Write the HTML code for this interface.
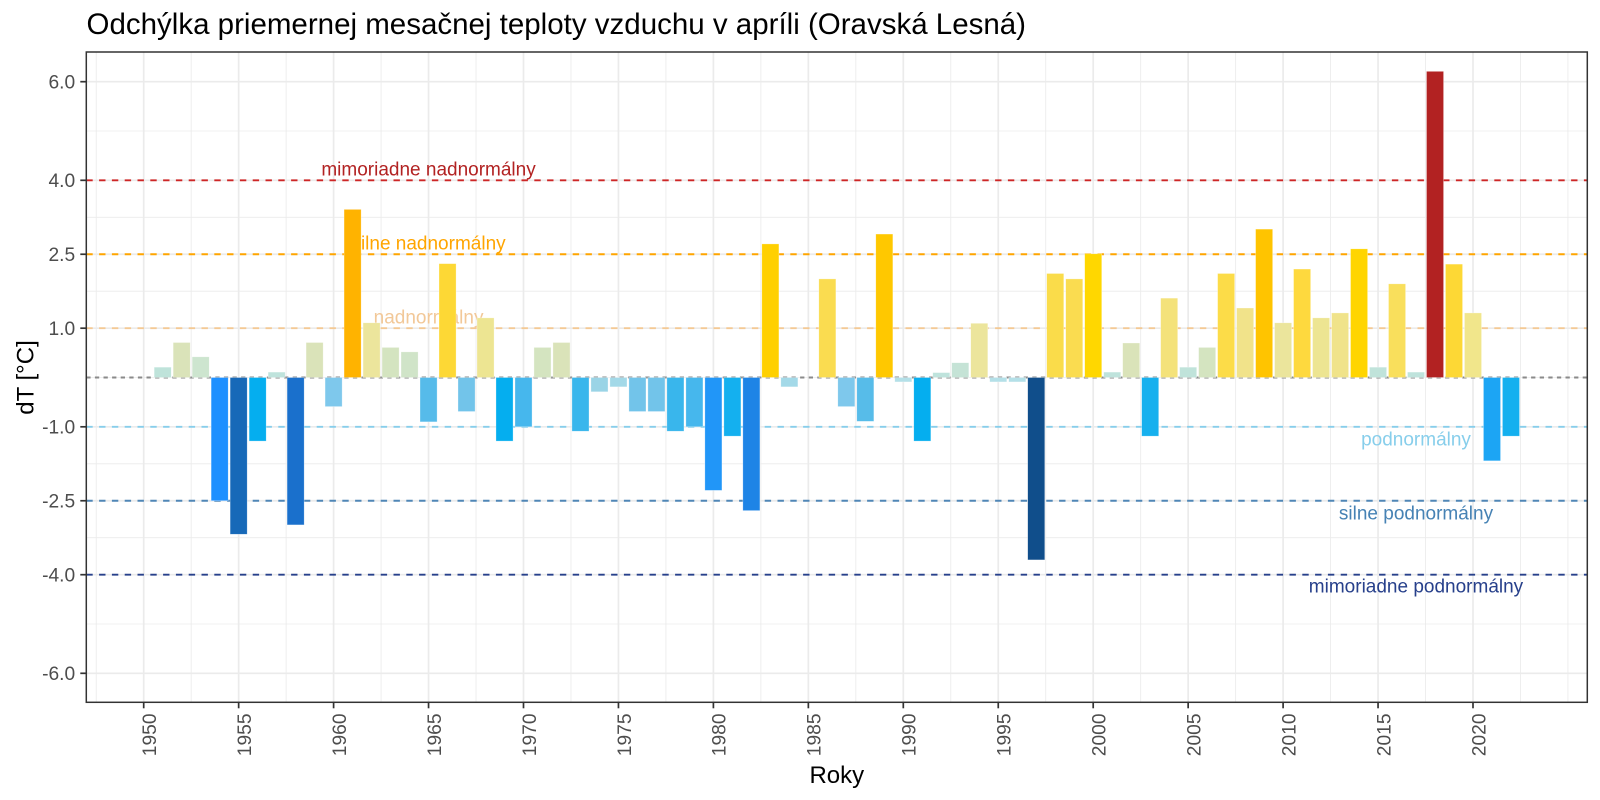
<!DOCTYPE html>
<html><head><meta charset="utf-8"><style>
html,body{margin:0;padding:0;background:#fff;}
svg{display:block;font-family:"Liberation Sans",Arial,sans-serif;}
</style></head><body>
<svg width="1600" height="800" viewBox="0 0 1600 800" xmlns="http://www.w3.org/2000/svg">
<rect x="0" y="0" width="1600" height="800" fill="#fff"/>
<text x="86.5" y="34" font-size="29.5" fill="#000">Odchýlka priemernej mesačnej teploty vzduchu v apríli (Oravská Lesná)</text>
<g stroke="#ebebeb" stroke-width="0.85">
<line x1="86.3" x2="1587.3" y1="131" y2="131"/><line x1="86.3" x2="1587.3" y1="217.28" y2="217.28"/><line x1="86.3" x2="1587.3" y1="291.23" y2="291.23"/><line x1="86.3" x2="1587.3" y1="377.5" y2="377.5"/><line x1="86.3" x2="1587.3" y1="463.78" y2="463.78"/><line x1="86.3" x2="1587.3" y1="537.73" y2="537.73"/><line x1="86.3" x2="1587.3" y1="624" y2="624"/>
<line y1="52" y2="702.3" x1="96.23" x2="96.23"/><line y1="52" y2="702.3" x1="191.18" x2="191.18"/><line y1="52" y2="702.3" x1="286.13" x2="286.13"/><line y1="52" y2="702.3" x1="381.08" x2="381.08"/><line y1="52" y2="702.3" x1="476.03" x2="476.03"/><line y1="52" y2="702.3" x1="570.98" x2="570.98"/><line y1="52" y2="702.3" x1="665.93" x2="665.93"/><line y1="52" y2="702.3" x1="760.88" x2="760.88"/><line y1="52" y2="702.3" x1="855.83" x2="855.83"/><line y1="52" y2="702.3" x1="950.78" x2="950.78"/><line y1="52" y2="702.3" x1="1045.73" x2="1045.73"/><line y1="52" y2="702.3" x1="1140.68" x2="1140.68"/><line y1="52" y2="702.3" x1="1235.63" x2="1235.63"/><line y1="52" y2="702.3" x1="1330.58" x2="1330.58"/><line y1="52" y2="702.3" x1="1425.53" x2="1425.53"/><line y1="52" y2="702.3" x1="1520.48" x2="1520.48"/><line y1="52" y2="702.3" x1="1567.95" x2="1567.95"/>
</g>
<g stroke="#ebebeb" stroke-width="1.7">
<line x1="86.3" x2="1587.3" y1="81.7" y2="81.7"/><line x1="86.3" x2="1587.3" y1="180.3" y2="180.3"/><line x1="86.3" x2="1587.3" y1="254.25" y2="254.25"/><line x1="86.3" x2="1587.3" y1="328.2" y2="328.2"/><line x1="86.3" x2="1587.3" y1="426.8" y2="426.8"/><line x1="86.3" x2="1587.3" y1="500.75" y2="500.75"/><line x1="86.3" x2="1587.3" y1="574.7" y2="574.7"/><line x1="86.3" x2="1587.3" y1="673.3" y2="673.3"/>
<line y1="52" y2="702.3" x1="143.7" x2="143.7"/><line y1="52" y2="702.3" x1="238.65" x2="238.65"/><line y1="52" y2="702.3" x1="333.6" x2="333.6"/><line y1="52" y2="702.3" x1="428.55" x2="428.55"/><line y1="52" y2="702.3" x1="523.5" x2="523.5"/><line y1="52" y2="702.3" x1="618.45" x2="618.45"/><line y1="52" y2="702.3" x1="713.4" x2="713.4"/><line y1="52" y2="702.3" x1="808.35" x2="808.35"/><line y1="52" y2="702.3" x1="903.3" x2="903.3"/><line y1="52" y2="702.3" x1="998.25" x2="998.25"/><line y1="52" y2="702.3" x1="1093.2" x2="1093.2"/><line y1="52" y2="702.3" x1="1188.15" x2="1188.15"/><line y1="52" y2="702.3" x1="1283.1" x2="1283.1"/><line y1="52" y2="702.3" x1="1378.05" x2="1378.05"/><line y1="52" y2="702.3" x1="1473" x2="1473"/>
</g>
<g stroke-width="1.9" stroke-dasharray="6.4 6.4">
<line x1="86.3" x2="1587.3" y1="180.3" y2="180.3" stroke="#cd2626"/>
<line x1="86.3" x2="1587.3" y1="254.25" y2="254.25" stroke="#ffa500"/>
<line x1="86.3" x2="1587.3" y1="328.2" y2="328.2" stroke="#f4c994"/>
<line x1="86.3" x2="1587.3" y1="426.8" y2="426.8" stroke="#87ceeb"/>
<line x1="86.3" x2="1587.3" y1="500.75" y2="500.75" stroke="#4f86b6"/>
<line x1="86.3" x2="1587.3" y1="574.7" y2="574.7" stroke="#27408b"/>
</g>
<line x1="86.3" x2="1587.3" y1="377.5" y2="377.5" stroke="#8a8a8a" stroke-width="1.9" stroke-dasharray="4.3 4.3"/>
<g font-size="19" text-anchor="middle">
<text x="428.55" y="175.3" fill="#b22222">mimoriadne nadnormálny</text>
<text x="428.55" y="249.5" fill="#ffa500">silne nadnormálny</text>
<text x="428.55" y="323.3" fill="#f2c898">nadnormálny</text>
<text x="1416" y="445.5" fill="#87ceeb">podnormálny</text>
<text x="1416" y="519.4" fill="#4682b4">silne podnormálny</text>
<text x="1416" y="592.7" fill="#27408b">mimoriadne podnormálny</text>
</g>
<g stroke="#fff" stroke-opacity="0.5" stroke-width="0.6">
<rect x="154.15" y="367.15" width="17.09" height="10.35" fill="#bfe3da"/>
<rect x="173.14" y="342.5" width="17.09" height="35" fill="#dae3b9"/>
<rect x="192.13" y="356.79" width="17.09" height="20.71" fill="#cde5cf"/>
<rect x="211.12" y="377.5" width="17.09" height="123.25" fill="#1e90ff"/>
<rect x="230.11" y="377.5" width="17.09" height="156.77" fill="#1769b8"/>
<rect x="249.1" y="377.5" width="17.09" height="63.6" fill="#05aeef"/>
<rect x="268.09" y="372.08" width="17.09" height="5.42" fill="#bfe3dc"/>
<rect x="287.08" y="377.5" width="17.09" height="147.41" fill="#1a70cc"/>
<rect x="306.07" y="342.5" width="17.09" height="35" fill="#dae3b9"/>
<rect x="325.06" y="377.5" width="17.09" height="29.09" fill="#7ec8ec"/>
<rect x="344.05" y="209.39" width="17.09" height="168.11" fill="#ffb300"/>
<rect x="363.04" y="322.78" width="17.09" height="54.72" fill="#ece59c"/>
<rect x="382.03" y="347.43" width="17.09" height="30.07" fill="#d4e4c0"/>
<rect x="401.02" y="351.86" width="17.09" height="25.64" fill="#d0e4c8"/>
<rect x="420.01" y="377.5" width="17.09" height="44.37" fill="#56bbea"/>
<rect x="439" y="263.62" width="17.09" height="113.88" fill="#fdd835"/>
<rect x="457.99" y="377.5" width="17.09" height="34.02" fill="#72c4ea"/>
<rect x="476.98" y="317.85" width="17.09" height="59.65" fill="#ede592"/>
<rect x="495.97" y="377.5" width="17.09" height="63.6" fill="#05aeef"/>
<rect x="514.96" y="377.5" width="17.09" height="49.3" fill="#46b7ed"/>
<rect x="533.95" y="347.43" width="17.09" height="30.07" fill="#d4e4c0"/>
<rect x="552.94" y="342.5" width="17.09" height="35" fill="#dae3b9"/>
<rect x="571.93" y="377.5" width="17.09" height="53.74" fill="#39b6ec"/>
<rect x="590.92" y="377.5" width="17.09" height="14.3" fill="#9ad4e6"/>
<rect x="609.91" y="377.5" width="17.09" height="9.37" fill="#a3d9e8"/>
<rect x="628.9" y="377.5" width="17.09" height="34.02" fill="#72c4ea"/>
<rect x="647.89" y="377.5" width="17.09" height="34.02" fill="#72c4ea"/>
<rect x="666.88" y="377.5" width="17.09" height="53.74" fill="#39b6ec"/>
<rect x="685.87" y="377.5" width="17.09" height="49.3" fill="#46b7ed"/>
<rect x="704.86" y="377.5" width="17.09" height="112.9" fill="#2196f8"/>
<rect x="723.85" y="377.5" width="17.09" height="58.67" fill="#14b0ef"/>
<rect x="742.84" y="377.5" width="17.09" height="133.11" fill="#1e84e6"/>
<rect x="761.83" y="243.9" width="17.09" height="133.6" fill="#ffd000"/>
<rect x="780.82" y="377.5" width="17.09" height="9.37" fill="#a3d9e8"/>
<rect x="818.8" y="278.9" width="17.09" height="98.6" fill="#fadc50"/>
<rect x="837.79" y="377.5" width="17.09" height="29.09" fill="#7ec8ec"/>
<rect x="856.78" y="377.5" width="17.09" height="43.88" fill="#57bce9"/>
<rect x="875.77" y="234.04" width="17.09" height="143.46" fill="#ffc800"/>
<rect x="894.76" y="377.5" width="17.09" height="4.44" fill="#b4e0e8"/>
<rect x="913.75" y="377.5" width="17.09" height="63.6" fill="#05aeef"/>
<rect x="932.74" y="372.57" width="17.09" height="4.93" fill="#bfe3dc"/>
<rect x="951.73" y="362.71" width="17.09" height="14.79" fill="#c5e3d6"/>
<rect x="970.72" y="323.27" width="17.09" height="54.23" fill="#ece59c"/>
<rect x="989.71" y="377.5" width="17.09" height="4.44" fill="#b4e0e8"/>
<rect x="1008.7" y="377.5" width="17.09" height="4.44" fill="#b4e0e8"/>
<rect x="1027.69" y="377.5" width="17.09" height="182.41" fill="#104e8b"/>
<rect x="1046.68" y="273.48" width="17.09" height="104.02" fill="#fadc4a"/>
<rect x="1065.67" y="278.9" width="17.09" height="98.6" fill="#fadc50"/>
<rect x="1084.66" y="253.76" width="17.09" height="123.74" fill="#ffd700"/>
<rect x="1103.65" y="372.08" width="17.09" height="5.42" fill="#bfe3dc"/>
<rect x="1122.64" y="342.99" width="17.09" height="34.51" fill="#dae3b9"/>
<rect x="1141.63" y="377.5" width="17.09" height="58.67" fill="#16b0ee"/>
<rect x="1160.62" y="298.13" width="17.09" height="79.37" fill="#f4e27a"/>
<rect x="1179.61" y="367.15" width="17.09" height="10.35" fill="#c0e3da"/>
<rect x="1198.6" y="347.43" width="17.09" height="30.07" fill="#d4e4c0"/>
<rect x="1217.59" y="273.48" width="17.09" height="104.02" fill="#fcdc48"/>
<rect x="1236.58" y="307.99" width="17.09" height="69.51" fill="#f1e38a"/>
<rect x="1255.57" y="229.11" width="17.09" height="148.39" fill="#ffc400"/>
<rect x="1274.56" y="322.78" width="17.09" height="54.72" fill="#ebe59c"/>
<rect x="1293.55" y="269.04" width="17.09" height="108.46" fill="#fed93e"/>
<rect x="1312.54" y="317.85" width="17.09" height="59.65" fill="#ede592"/>
<rect x="1331.53" y="312.92" width="17.09" height="64.58" fill="#f0e38a"/>
<rect x="1350.52" y="248.83" width="17.09" height="128.67" fill="#ffd500"/>
<rect x="1369.51" y="367.15" width="17.09" height="10.35" fill="#c0e3da"/>
<rect x="1388.5" y="283.83" width="17.09" height="93.67" fill="#f9df5c"/>
<rect x="1407.49" y="372.08" width="17.09" height="5.42" fill="#bfe3dc"/>
<rect x="1426.48" y="71.35" width="17.09" height="306.15" fill="#b22222"/>
<rect x="1445.47" y="264.11" width="17.09" height="113.39" fill="#fdd835"/>
<rect x="1464.46" y="312.92" width="17.09" height="64.58" fill="#f1e68b"/>
<rect x="1483.45" y="377.5" width="17.09" height="83.32" fill="#1ca5f4"/>
<rect x="1502.44" y="377.5" width="17.09" height="58.67" fill="#14b0ef"/>
</g>
<rect x="86.3" y="52" width="1501" height="650.3" fill="none" stroke="#333" stroke-width="1.5"/>
<g stroke="#333" stroke-width="1.7">
<line x1="80.3" x2="86.3" y1="81.7" y2="81.7"/><line x1="80.3" x2="86.3" y1="180.3" y2="180.3"/><line x1="80.3" x2="86.3" y1="254.25" y2="254.25"/><line x1="80.3" x2="86.3" y1="328.2" y2="328.2"/><line x1="80.3" x2="86.3" y1="426.8" y2="426.8"/><line x1="80.3" x2="86.3" y1="500.75" y2="500.75"/><line x1="80.3" x2="86.3" y1="574.7" y2="574.7"/><line x1="80.3" x2="86.3" y1="673.3" y2="673.3"/>
<line y1="702.3" y2="708.3" x1="143.7" x2="143.7"/><line y1="702.3" y2="708.3" x1="238.65" x2="238.65"/><line y1="702.3" y2="708.3" x1="333.6" x2="333.6"/><line y1="702.3" y2="708.3" x1="428.55" x2="428.55"/><line y1="702.3" y2="708.3" x1="523.5" x2="523.5"/><line y1="702.3" y2="708.3" x1="618.45" x2="618.45"/><line y1="702.3" y2="708.3" x1="713.4" x2="713.4"/><line y1="702.3" y2="708.3" x1="808.35" x2="808.35"/><line y1="702.3" y2="708.3" x1="903.3" x2="903.3"/><line y1="702.3" y2="708.3" x1="998.25" x2="998.25"/><line y1="702.3" y2="708.3" x1="1093.2" x2="1093.2"/><line y1="702.3" y2="708.3" x1="1188.15" x2="1188.15"/><line y1="702.3" y2="708.3" x1="1283.1" x2="1283.1"/><line y1="702.3" y2="708.3" x1="1378.05" x2="1378.05"/><line y1="702.3" y2="708.3" x1="1473" x2="1473"/>
</g>
<g font-size="19.2" fill="#4d4d4d" text-anchor="end">
<text x="75.2" y="88.6">6.0</text>
<text x="75.2" y="187.2">4.0</text>
<text x="75.2" y="261.15">2.5</text>
<text x="75.2" y="335.1">1.0</text>
<text x="75.2" y="433.7">-1.0</text>
<text x="75.2" y="507.65">-2.5</text>
<text x="75.2" y="581.6">-4.0</text>
<text x="75.2" y="680.2">-6.0</text>
</g>
<g font-size="19.2" fill="#4d4d4d" text-anchor="end">
<text transform="translate(156,713.5) rotate(-90)">1950</text>
<text transform="translate(250.95,713.5) rotate(-90)">1955</text>
<text transform="translate(345.9,713.5) rotate(-90)">1960</text>
<text transform="translate(440.85,713.5) rotate(-90)">1965</text>
<text transform="translate(535.8,713.5) rotate(-90)">1970</text>
<text transform="translate(630.75,713.5) rotate(-90)">1975</text>
<text transform="translate(725.7,713.5) rotate(-90)">1980</text>
<text transform="translate(820.65,713.5) rotate(-90)">1985</text>
<text transform="translate(915.6,713.5) rotate(-90)">1990</text>
<text transform="translate(1010.55,713.5) rotate(-90)">1995</text>
<text transform="translate(1105.5,713.5) rotate(-90)">2000</text>
<text transform="translate(1200.45,713.5) rotate(-90)">2005</text>
<text transform="translate(1295.4,713.5) rotate(-90)">2010</text>
<text transform="translate(1390.35,713.5) rotate(-90)">2015</text>
<text transform="translate(1485.3,713.5) rotate(-90)">2020</text>
</g>
<text x="836.8" y="783" font-size="24" fill="#000" text-anchor="middle">Roky</text>
<text transform="translate(33.5,377.5) rotate(-90)" font-size="24" fill="#000" text-anchor="middle">dT [°C]</text>
</svg>
</body></html>
